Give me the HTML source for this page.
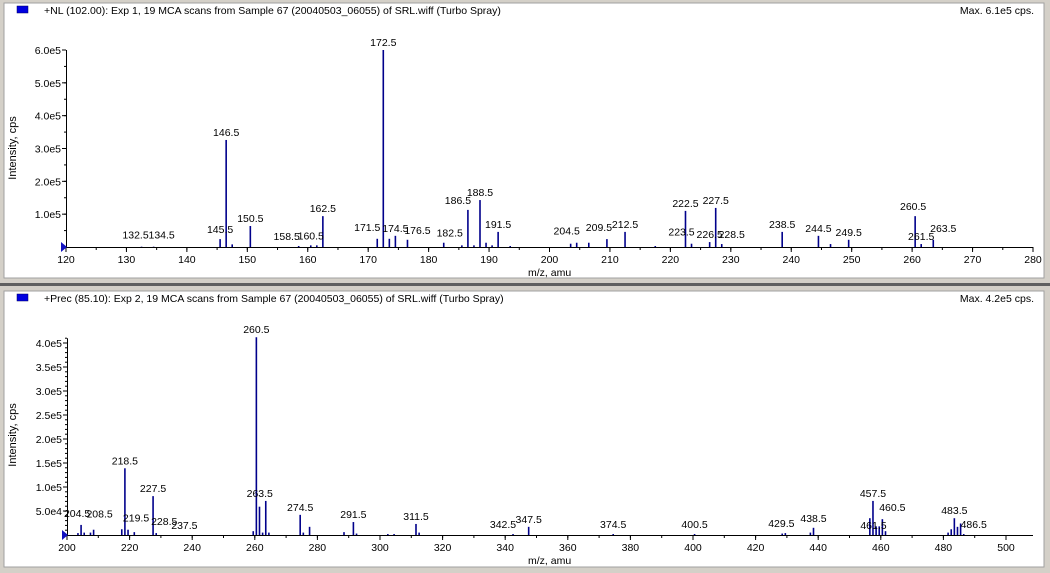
<!DOCTYPE html>
<html><head><meta charset="utf-8">
<style>
html,body{margin:0;padding:0;background:#d4d0c8;}
svg{display:block;font-family:"Liberation Sans",Arial,sans-serif;}
</style></head>
<body>
<svg id="c" width="1050" height="573" viewBox="0 0 1050 573">
  <rect x="0" y="0" width="1050" height="573" fill="#d4d0c8"/>
  <rect x="0" y="283" width="1050" height="3" fill="#606060"/>
  <rect x="4" y="3" width="1040" height="275" fill="#fff" stroke="#a0a0a0"/>
  <rect x="4" y="291" width="1040" height="276" fill="#fff" stroke="#a0a0a0"/>
  <g id="g1"></g>
  <g id="g2"></g>
</svg>
<script>
// ---- Top spectrum data (+NL 102.00) ----
const topMz = [132.5,134.5,145.5,146.5,147.5,150.5,158.5,160.5,161.5,162.5,171.5,172.5,173.5,174.5,176.5,182.5,185.5,186.5,187.5,188.5,189.5,190.5,191.5,193.5,203.5,204.5,206.5,209.5,212.5,217.5,222.5,223.5,226.5,227.5,228.5,238.5,244.5,246.5,249.5,260.5,261.5,263.5];
const topInt = [1000,1000,24000,326000,8000,64000,3000,5000,5000,94000,25000,600000,25000,34000,22000,13000,5000,113000,5000,143000,13000,5000,46000,3000,10000,13000,13000,24000,46000,3000,110000,10000,15000,119000,9000,46000,34000,9000,22000,94000,9000,22000];
const topLabels = ["132.5","134.5","145.5","146.5","150.5","158.5","160.5","162.5","171.5","172.5","174.5","176.5","182.5","186.5","188.5","191.5","204.5","209.5","212.5","222.5","223.5","226.5","227.5","228.5","238.5","244.5","249.5","260.5","261.5","263.5"];
const topYTicks = [0,100000,200000,300000,400000,500000,600000];
const topYTickLabels = ["","1.0e5","2.0e5","3.0e5","4.0e5","5.0e5","6.0e5"];
const topXTicks = [120,130,140,150,160,170,180,190,200,210,220,230,240,250,260,270,280];

// ---- Bottom spectrum data (+Prec 85.10) ----
const botMz = [203.5,204.5,205.5,207.5,208.5,217.5,218.5,219.5,221.5,227.5,228.5,259.5,260.5,261.5,262.5,263.5,264.5,274.5,275.5,277.5,288.5,291.5,292.5,302.5,304.5,311.5,312.5,342.5,347.5,374.5,400.5,428.5,429.5,437.5,438.5,456.5,457.5,458.5,459.5,460.5,461.5,481.5,482.5,483.5,484.5,485.5,486.5];
const botInt = [4000,21000,5000,5000,11000,12000,139000,11000,6000,81000,4000,8000,412000,59000,5000,71000,5000,42000,5000,17000,6000,27000,3000,2000,2000,23000,5000,2000,17000,2000,2000,3000,4000,5000,15000,35000,71000,18000,18000,33000,8000,5000,12000,35000,17000,24000,2000];
const botLabels = ["204.5","208.5","219.5","218.5","227.5","228.5","237.5","260.5","263.5","274.5","291.5","311.5","342.5","347.5","374.5","400.5","429.5","438.5","457.5","460.5","461.5","483.5","486.5"];
const botYTicks = [50000,100000,150000,200000,250000,300000,350000,400000];
const botYTickLabels = ["5.0e4","1.0e5","1.5e5","2.0e5","2.5e5","3.0e5","3.5e5","4.0e5"];
const botXTicks = [200,220,240,260,280,300,320,340,360,380,400,420,440,460,480,500];

// label layout offsets (pixels, presentation only)
const topOff = {"132.5":[-6,-4],"134.5":[8,-4],"145.5":[0,-2],"158.5":[-12,-2],"160.5":[0,-2],"171.5":[-10,-4],"176.5":[10,-2],"182.5":[6,-2],"186.5":[-10,-2],"204.5":[-10,-4],"209.5":[-8,-4],"223.5":[-10,-4],"226.5":[0,0],"228.5":[10,-2],"260.5":[-2,-2],"261.5":[0,0],"263.5":[10,-4]};
const botOff = {"204.5":[-4,-4],"208.5":[6,-8],"219.5":[8,-4],"228.5":[8,-4],"237.5":[0,-2],"263.5":[-6,0],"342.5":[-10,-2],"374.5":[0,-2],"400.5":[0,-2],"429.5":[-4,-2],"438.5":[0,-2],"457.5":[0,0],"460.5":[10,-4],"461.5":[-12,2],"486.5":[10,-2]};

const NS="http://www.w3.org/2000/svg";
function mk(tag,attrs,parent){const e=document.createElementNS(NS,tag);for(const k in attrs)e.setAttribute(k,attrs[k]);parent.appendChild(e);return e;}

function drawPanel(g,cfg){
  const xs=v=>cfg.x0+(v-cfg.xmin)*(cfg.x1-cfg.x0)/(cfg.xmax-cfg.xmin);
  const ys=v=>cfg.y0-v*(cfg.y0-cfg.yTop)/cfg.ymaxRef;
  let t=mk('rect',{x:17,y:cfg.titleY-8,width:11,height:7,fill:'#0000e0',stroke:'#000060','stroke-width':0.5},g);
  
  
  t=mk('text',{x:44,y:cfg.titleY,'font-size':'10.5px',fill:'#000'},g);t.textContent=cfg.title;
  
  
  t=mk('text',{x:1034,y:cfg.titleY,'font-size':'10.5px','text-anchor':'end',fill:'#000'},g);t.textContent=cfg.maxText;
  
  
  let a=mk('line',{x1:cfg.x0,y1:cfg.y0+0.5,x2:cfg.xEnd,y2:cfg.y0+0.5,stroke:'#000'},g);
  
  
  a=mk('line',{x1:cfg.x0+0.5,y1:cfg.y0,x2:cfg.x0+0.5,y2:ys(cfg.yAxisTop),stroke:'#000'},g);
  
  
  for(let v=cfg.xmin;xs(v)<=cfg.xEnd+0.1;v+=cfg.xMinor){
    const m=mk('line',{x1:xs(v),y1:cfg.y0,x2:xs(v),y2:cfg.y0+3,stroke:'#000'},g);
    
    
  }
  cfg.xTicks.forEach(v=>{
    const l=mk('line',{x1:xs(v),y1:cfg.y0,x2:xs(v),y2:cfg.y0+5,stroke:'#000'},g);
    
    
    const tx=mk('text',{x:xs(v),y:cfg.y0+16,'font-size':'10.5px','text-anchor':'middle'},g);tx.textContent=String(v);
    
    
  });
  for(let v=0;v<=cfg.yAxisTop;v+=cfg.yMinor){
    const m=mk('line',{x1:cfg.x0-2,y1:ys(v),x2:cfg.x0,y2:ys(v),stroke:'#000'},g);
    
    
  }
  cfg.yTicks.forEach((v,i)=>{
    const l=mk('line',{x1:cfg.x0-4,y1:ys(v),x2:cfg.x0,y2:ys(v),stroke:'#000'},g);
    
    
    if(cfg.yLabels[i]){const tx=mk('text',{x:cfg.x0-5,y:ys(v)+4,'font-size':'10.5px','text-anchor':'end'},g);tx.textContent=cfg.yLabels[i];
    
    }
  });
  const tri=mk('polygon',{points:`${cfg.x0-5},${cfg.y0-5} ${cfg.x0+1},${cfg.y0} ${cfg.x0-5},${cfg.y0+5}`,fill:'#1010c0'},g);
  
  
  let at=mk('text',{x:0,y:0,'font-size':'11px','text-anchor':'middle',transform:`translate(16,${cfg.yTitleY}) rotate(-90)`},g);at.textContent='Intensity, cps';
  
  
  at=mk('text',{x:528,y:cfg.y0+29,'font-size':'10.5px'},g);at.textContent='m/z, amu';
  
  
  cfg.mz.forEach((m,i)=>{
    const b=mk('line',{x1:xs(m),y1:cfg.y0,x2:xs(m),y2:ys(cfg.inten[i]),stroke:'#00008b','stroke-width':1.6},g);
    
    
  });
  cfg.labels.forEach(lab=>{
    const m=parseFloat(lab);
    const idx=cfg.mz.indexOf(m);
    const val=idx>=0?cfg.inten[idx]:0;
    const off=cfg.off[lab]||[0,0];
    const tx=mk('text',{x:xs(m)+off[0],y:ys(val)-4+off[1],'font-size':'10.5px','text-anchor':'middle'},g);tx.textContent=lab;
    
    
  });
}

drawPanel(document.getElementById('g1'),{
  title:'+NL (102.00): Exp 1, 19 MCA scans from Sample 67 (20040503_06055) of SRL.wiff (Turbo Spray)',
  maxText:'Max. 6.1e5 cps.',titleY:14,
  x0:66,x1:1033,xmin:120,xmax:280,xEnd:1033,xMinor:5,
  y0:247,yTop:50,ymaxRef:600000,yAxisTop:600000,yMinor:50000,
  xTicks:topXTicks,yTicks:topYTicks,yLabels:topYTickLabels,yTitleY:148,
  mz:topMz,inten:topInt,labels:topLabels,off:topOff
});
drawPanel(document.getElementById('g2'),{
  title:'+Prec (85.10): Exp 2, 19 MCA scans from Sample 67 (20040503_06055) of SRL.wiff (Turbo Spray)',
  maxText:'Max. 4.2e5 cps.',titleY:302,
  x0:67,x1:1006,xmin:200,xmax:500,xEnd:1033,xMinor:10,
  y0:535,yTop:343,ymaxRef:400000,yAxisTop:410000,yMinor:10000,
  xTicks:botXTicks,yTicks:botYTicks,yLabels:botYTickLabels,yTitleY:435,
  mz:botMz,inten:botInt,labels:botLabels,off:botOff
});
</script>
</body></html>
